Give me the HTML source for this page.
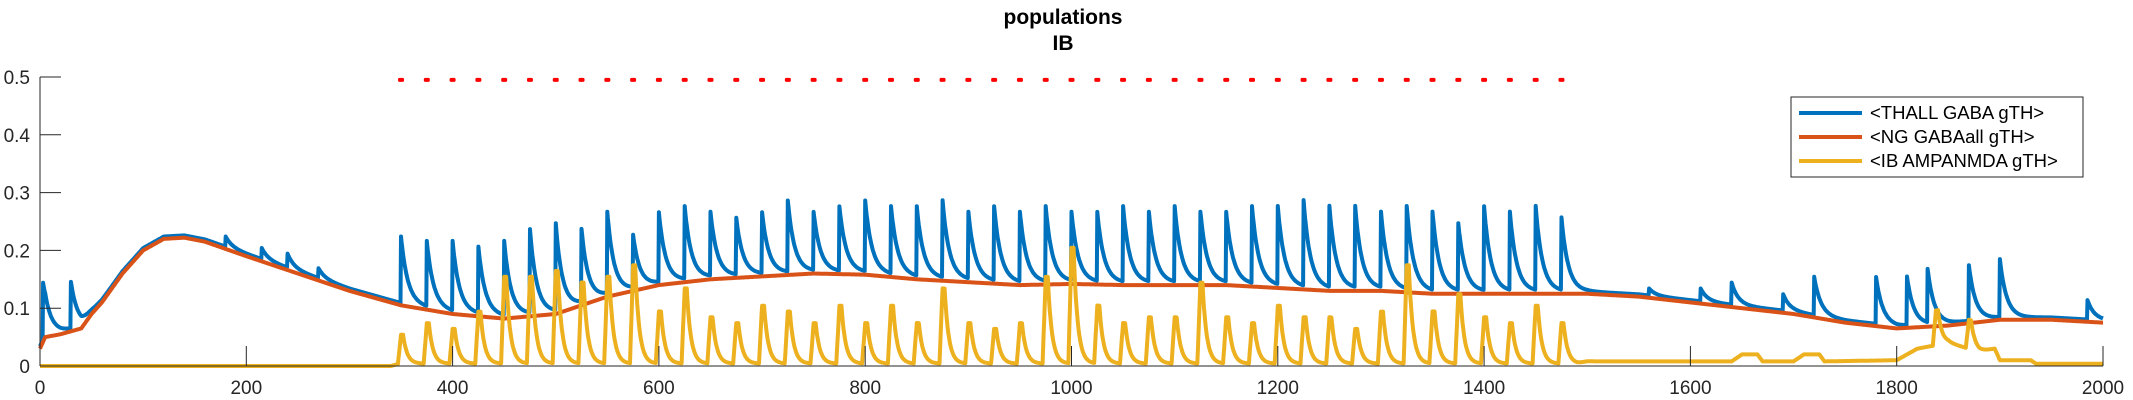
<!DOCTYPE html>
<html><head><meta charset="utf-8"><style>
html,body{margin:0;padding:0;background:#fff;}
svg{display:block;font-family:"Liberation Sans",sans-serif;}
</style></head><body>
<svg id="chart" width="2133" height="400" viewBox="0 0 2133 400">
<text x="1063" y="24" text-anchor="middle" font-weight="bold" font-size="21">populations</text>
<text x="1063" y="50" text-anchor="middle" font-weight="bold" font-size="21">IB</text>
<g id="plot"></g>
<g id="axes"></g>
<g>
<rect x="1791" y="97" width="292" height="80" fill="#fff" stroke="#262626" stroke-width="1"/>
<g><line x1="1799" y1="113" x2="1862" y2="113" stroke="#0072BD" stroke-width="4"/><text x="1870" y="119" font-size="18.5" fill="#000">&lt;THALL GABA gTH&gt;</text></g>
<g><line x1="1799" y1="137" x2="1862" y2="137" stroke="#D95319" stroke-width="4"/><text x="1870" y="143" font-size="18.5" fill="#000">&lt;NG GABAall gTH&gt;</text></g>
<g><line x1="1799" y1="161" x2="1862" y2="161" stroke="#EDB120" stroke-width="4"/><text x="1870" y="167" font-size="18.5" fill="#000">&lt;IB AMPANMDA gTH&gt;</text></g>
</g>
</svg>
<script>
const ngTimes=[0,5,20,40,50,60,80,100,120,140,160,200,250,300,350,400,450,500,550,600,650,700,750,800,850,900,950,1000,1050,1100,1150,1200,1250,1300,1350,1400,1450,1500,1550,1600,1650,1700,1750,1800,1850,1900,1950,2000];
const ngValues=[0.03,0.05,0.055,0.065,0.09,0.11,0.16,0.2,0.22,0.222,0.215,0.19,0.16,0.13,0.105,0.09,0.082,0.09,0.12,0.14,0.15,0.155,0.16,0.158,0.15,0.145,0.14,0.142,0.14,0.14,0.14,0.135,0.13,0.13,0.125,0.125,0.125,0.125,0.12,0.11,0.1,0.09,0.075,0.065,0.07,0.08,0.08,0.075];
const thallSpikeTimes=[3,30,180,215,240,270,350,375,400,425,450,475,500,525,550,575,600,625,650,675,700,725,750,775,800,825,850,875,900,925,950,975,1000,1025,1050,1075,1100,1125,1150,1175,1200,1225,1250,1275,1300,1325,1350,1375,1400,1425,1450,1475,1560,1610,1640,1690,1720,1780,1810,1830,1870,1900,1985];
const thallSpikePeaks=[0.14,0.14,0.22,0.2,0.19,0.165,0.22,0.21,0.21,0.2,0.21,0.23,0.24,0.23,0.26,0.22,0.26,0.27,0.26,0.25,0.26,0.28,0.26,0.27,0.28,0.27,0.27,0.28,0.26,0.27,0.26,0.27,0.26,0.26,0.27,0.26,0.27,0.26,0.26,0.27,0.27,0.28,0.27,0.27,0.26,0.27,0.26,0.24,0.27,0.26,0.27,0.25,0.13,0.13,0.14,0.12,0.15,0.15,0.15,0.16,0.17,0.18,0.11];
const ibSpikeTimes=[350,375,400,425,450,475,500,525,550,575,600,625,650,675,700,725,750,775,800,825,850,875,900,925,950,975,1000,1025,1050,1075,1100,1125,1150,1175,1200,1225,1250,1275,1300,1325,1350,1375,1400,1425,1450,1475,1838,1870];
const ibSpikePeaks=[0.05,0.07,0.06,0.09,0.15,0.15,0.16,0.14,0.15,0.17,0.09,0.13,0.08,0.07,0.1,0.09,0.07,0.1,0.07,0.1,0.07,0.13,0.07,0.06,0.07,0.15,0.2,0.1,0.07,0.08,0.08,0.14,0.08,0.07,0.1,0.08,0.08,0.06,0.09,0.17,0.09,0.12,0.08,0.07,0.1,0.07,0.06,0.05];
const ibBaseTimes=[0,340,348,1490,1500,1640,1650,1665,1670,1700,1710,1725,1730,1800,1820,1850,1880,1895,1900,1930,1935,2000];
const ibBaseValues=[0,0,0.004,0.004,0.008,0.008,0.02,0.02,0.008,0.008,0.02,0.02,0.008,0.01,0.03,0.04,0.025,0.03,0.01,0.01,0.004,0.004];
const stimTimes=[];for(let t=350;t<=1475;t+=25)stimTimes.push(t);
const stimLevel=0.495;
const xTicks=[0,200,400,600,800,1000,1200,1400,1600,1800,2000];
const yTicks=[0,0.1,0.2,0.3,0.4,0.5];

const NS="http://www.w3.org/2000/svg";
const X=t=>40+t*1.0315, Y=v=>366-v*578;
function interp(ts,vs,t){if(t<=ts[0])return vs[0];for(let i=1;i<ts.length;i++){if(t<=ts[i]){const f=(t-ts[i-1])/(ts[i]-ts[i-1]);return vs[i-1]+f*(vs[i]-vs[i-1]);}}return vs[vs.length-1];}
const plot=document.getElementById('plot'),axes=document.getElementById('axes');
function path(pts,color,name){const p=document.createElementNS(NS,'path');p.setAttribute('d','M'+pts.map(q=>q[0].toFixed(1)+','+q[1].toFixed(1)).join('L'));p.setAttribute('fill','none');p.setAttribute('stroke',color);p.setAttribute('stroke-width','4');p.setAttribute('stroke-linejoin','round');


plot.appendChild(p);}
const blue=[],orange=[],yellow=[];
for(let t=0;t<=2000;t+=0.5){
 const b=interp(ngTimes,ngValues,t);
 orange.push([X(t),Y(b)]);
 let v=b+0.004;
 thallSpikeTimes.forEach((ts,i)=>{if(t>=ts){const a=thallSpikePeaks[i]-interp(ngTimes,ngValues,ts);v+=Math.max(0,a)*Math.exp(-(t-ts)/6.5);}});
 blue.push([X(t),Y(v)]);
 let y=interp(ibBaseTimes,ibBaseValues,t);
 ibSpikeTimes.forEach((ts,i)=>{if(t>=ts-3&&t<ts+60){const d=t-ts;const a=ibSpikePeaks[i];y+= d<0?a*(d+3)/3:(d<2?a:a*Math.exp(-(d-2)/4));}});
 yellow.push([X(t),Y(y)]);
}
path(blue,'#0072BD','series-thall-gaba');
path(orange,'#D95319','series-ng-gabaall');
path(yellow,'#EDB120','series-ib-ampanmda');
stimTimes.forEach(t=>{const r=document.createElementNS(NS,'rect');r.setAttribute('x',X(t)-3);r.setAttribute('y',Y(stimLevel)-2);r.setAttribute('width',6);r.setAttribute('height',4);r.setAttribute('rx',1.5);r.setAttribute('fill','#FF0000');


plot.appendChild(r);});
function line(x1,y1,x2,y2,name){const l=document.createElementNS(NS,'line');l.setAttribute('x1',x1);l.setAttribute('y1',y1);l.setAttribute('x2',x2);l.setAttribute('y2',y2);l.setAttribute('stroke','#262626');l.setAttribute('stroke-width','1');


axes.appendChild(l);}
function text(x,y,s,anchor,name){const e=document.createElementNS(NS,'text');e.setAttribute('x',x);e.setAttribute('y',y);e.setAttribute('text-anchor',anchor);e.setAttribute('font-size','19');e.setAttribute('fill','#262626');e.textContent=s;


axes.appendChild(e);}
line(X(0),Y(0),X(2000),Y(0),'x-axis');
line(X(0),Y(0),X(0),Y(0.5),'y-axis');
xTicks.forEach(t=>{line(X(t),Y(0),X(t),Y(0)-20,'x-tick');text(X(t),394,String(t),'middle','x-tick-label');});
yTicks.forEach(v=>{line(X(0),Y(v),X(0)+21,Y(v),'y-tick');text(30,Y(v)+7,v===0?'0':String(v),'end','y-tick-label');});
</script>
</body></html>
